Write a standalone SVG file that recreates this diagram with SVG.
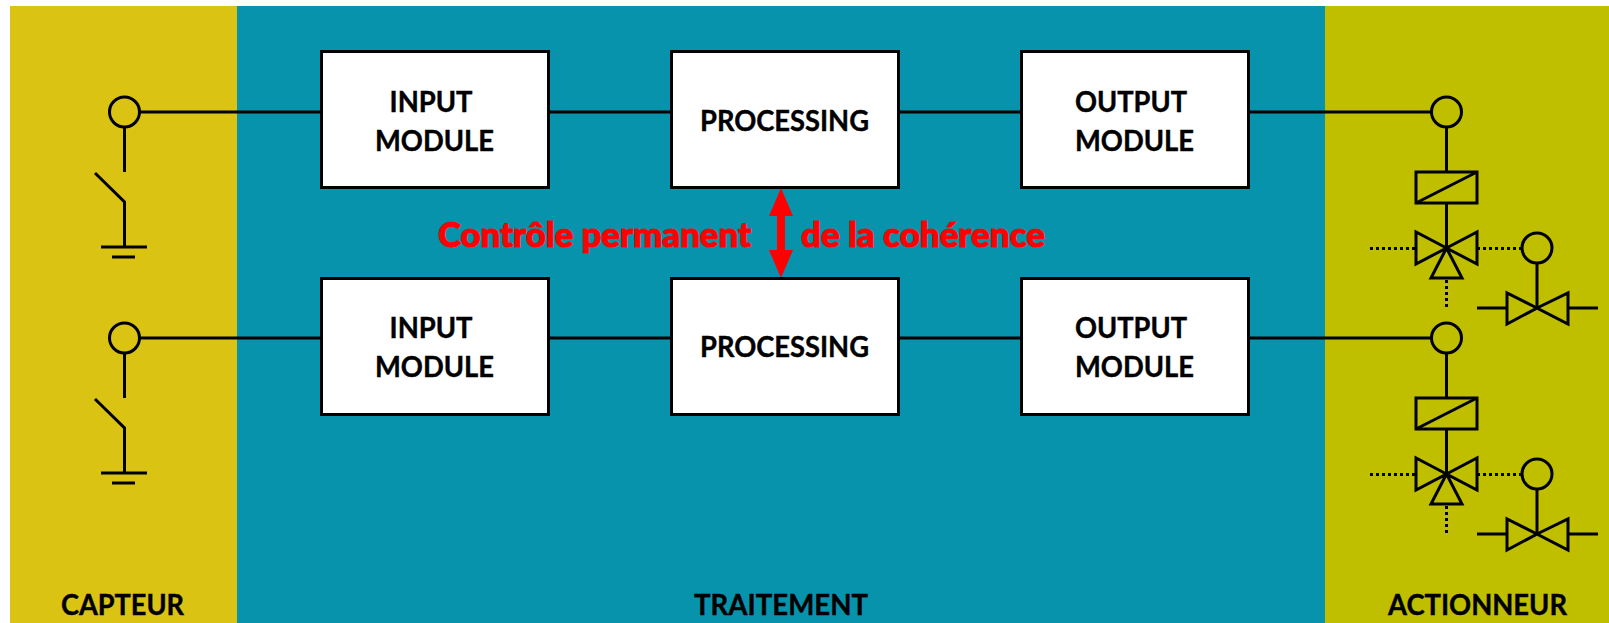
<svg xmlns="http://www.w3.org/2000/svg" width="1609" height="623" viewBox="0 0 1609 623">
<style>
.l{fill:none;stroke:#000;stroke-width:3}
.d{fill:none;stroke:#000;stroke-width:3;stroke-dasharray:3 3}
.b{fill:#fff;stroke:#000;stroke-width:3}
text{font-family:"Lato","Liberation Sans",sans-serif;font-weight:700;font-size:29px;fill:#000;stroke:#000;stroke-width:.4}
.r{fill:#f00;stroke:#f00;stroke-width:1;font-size:35px;font-weight:900}
</style>
<defs>
<g id="sensor">
<circle class="l" cx="124.500" cy="112" r="15"/>
<path class="l" d="M124.500 127V172M95 173L124.500 202V247M101 247H147M112 257H135"/>
</g>
<g id="actuator">
<circle class="l" cx="1446.500" cy="112" r="15"/>
<path class="l" d="M1446.500 127V172M1446.500 203V248"/>
<rect class="l" x="1416" y="172" width="61" height="31"/>
<path class="l" d="M1416 203L1477 172"/>
<path class="l" d="M1446.500 248L1416 232V264ZM1446.500 248L1477 232V264ZM1446.500 248L1431 278H1462Z"/>
<path class="d" d="M1370 248.500H1416M1477 248.500H1521M1446.500 280V308"/>
<circle class="l" cx="1537" cy="248" r="15"/>
<path class="l" d="M1537 263V308M1477 308H1507M1568 308H1598"/>
<path class="l" d="M1537 308L1507 293V324ZM1537 308L1568 293V324Z"/>
</g>
</defs>
<rect width="1609" height="623" fill="#fff"/>
<g id="zone-capteur"><rect x="10" y="6" width="227" height="617" fill="#DAC313"/><text x="61" y="615" textLength="123" lengthAdjust="spacingAndGlyphs">CAPTEUR</text></g>
<g id="zone-traitement"><rect x="237" y="6" width="1088" height="617" fill="#0893AD"/><text x="694" y="615" textLength="174" lengthAdjust="spacingAndGlyphs">TRAITEMENT</text></g>
<g id="zone-actionneur"><rect x="1325" y="6" width="284" height="617" fill="#BFBF00"/><text x="1388" y="615" textLength="179" lengthAdjust="spacingAndGlyphs">ACTIONNEUR</text></g>
<g id="connectors">
<path class="l" d="M139 112H321M549 112H671M898 112H1021M1249 112H1432M139 338H321M549 338H671M898 338H1021M1249 338H1432"/>
<path stroke="#f00" stroke-width="8" fill="none" d="M781 212V254"/>
<path fill="#f00" d="M781 188L793 216H769ZM781 278L793 250H769Z"/>
</g>
<g id="sensor-1"><use href="#sensor"/></g>
<g id="sensor-2"><use href="#sensor" y="226"/></g>
<g id="actuator-1"><use href="#actuator"/></g>
<g id="actuator-2"><use href="#actuator" y="226"/></g>
<g id="input-1"><rect class="b" x="321.500" y="51.500" width="227" height="136"/><text x="389.500" y="112" textLength="83" lengthAdjust="spacingAndGlyphs">INPUT</text><text x="375" y="151" textLength="119" lengthAdjust="spacingAndGlyphs">MODULE</text></g>
<g id="processing-1"><rect class="b" x="671.500" y="51.500" width="227" height="136"/><text x="700" y="131" textLength="169" lengthAdjust="spacingAndGlyphs">PROCESSING</text></g>
<g id="output-1"><rect class="b" x="1021.500" y="51.500" width="227" height="136"/><text x="1075" y="112" textLength="112" lengthAdjust="spacingAndGlyphs">OUTPUT</text><text x="1075" y="151" textLength="119" lengthAdjust="spacingAndGlyphs">MODULE</text></g>
<g id="input-2"><rect class="b" x="321.500" y="278.500" width="227" height="136"/><text x="389.500" y="338" textLength="83" lengthAdjust="spacingAndGlyphs">INPUT</text><text x="375" y="377" textLength="119" lengthAdjust="spacingAndGlyphs">MODULE</text></g>
<g id="processing-2"><rect class="b" x="671.500" y="278.500" width="227" height="136"/><text x="700" y="357" textLength="169" lengthAdjust="spacingAndGlyphs">PROCESSING</text></g>
<g id="output-2"><rect class="b" x="1021.500" y="278.500" width="227" height="136"/><text x="1075" y="338" textLength="112" lengthAdjust="spacingAndGlyphs">OUTPUT</text><text x="1075" y="377" textLength="119" lengthAdjust="spacingAndGlyphs">MODULE</text></g>
<g id="label-coherence"><text class="r" x="438" y="247" textLength="313" lengthAdjust="spacingAndGlyphs">Contrôle permanent</text><text class="r" x="801" y="247" textLength="244" lengthAdjust="spacingAndGlyphs">de la cohérence</text></g>
</svg>
